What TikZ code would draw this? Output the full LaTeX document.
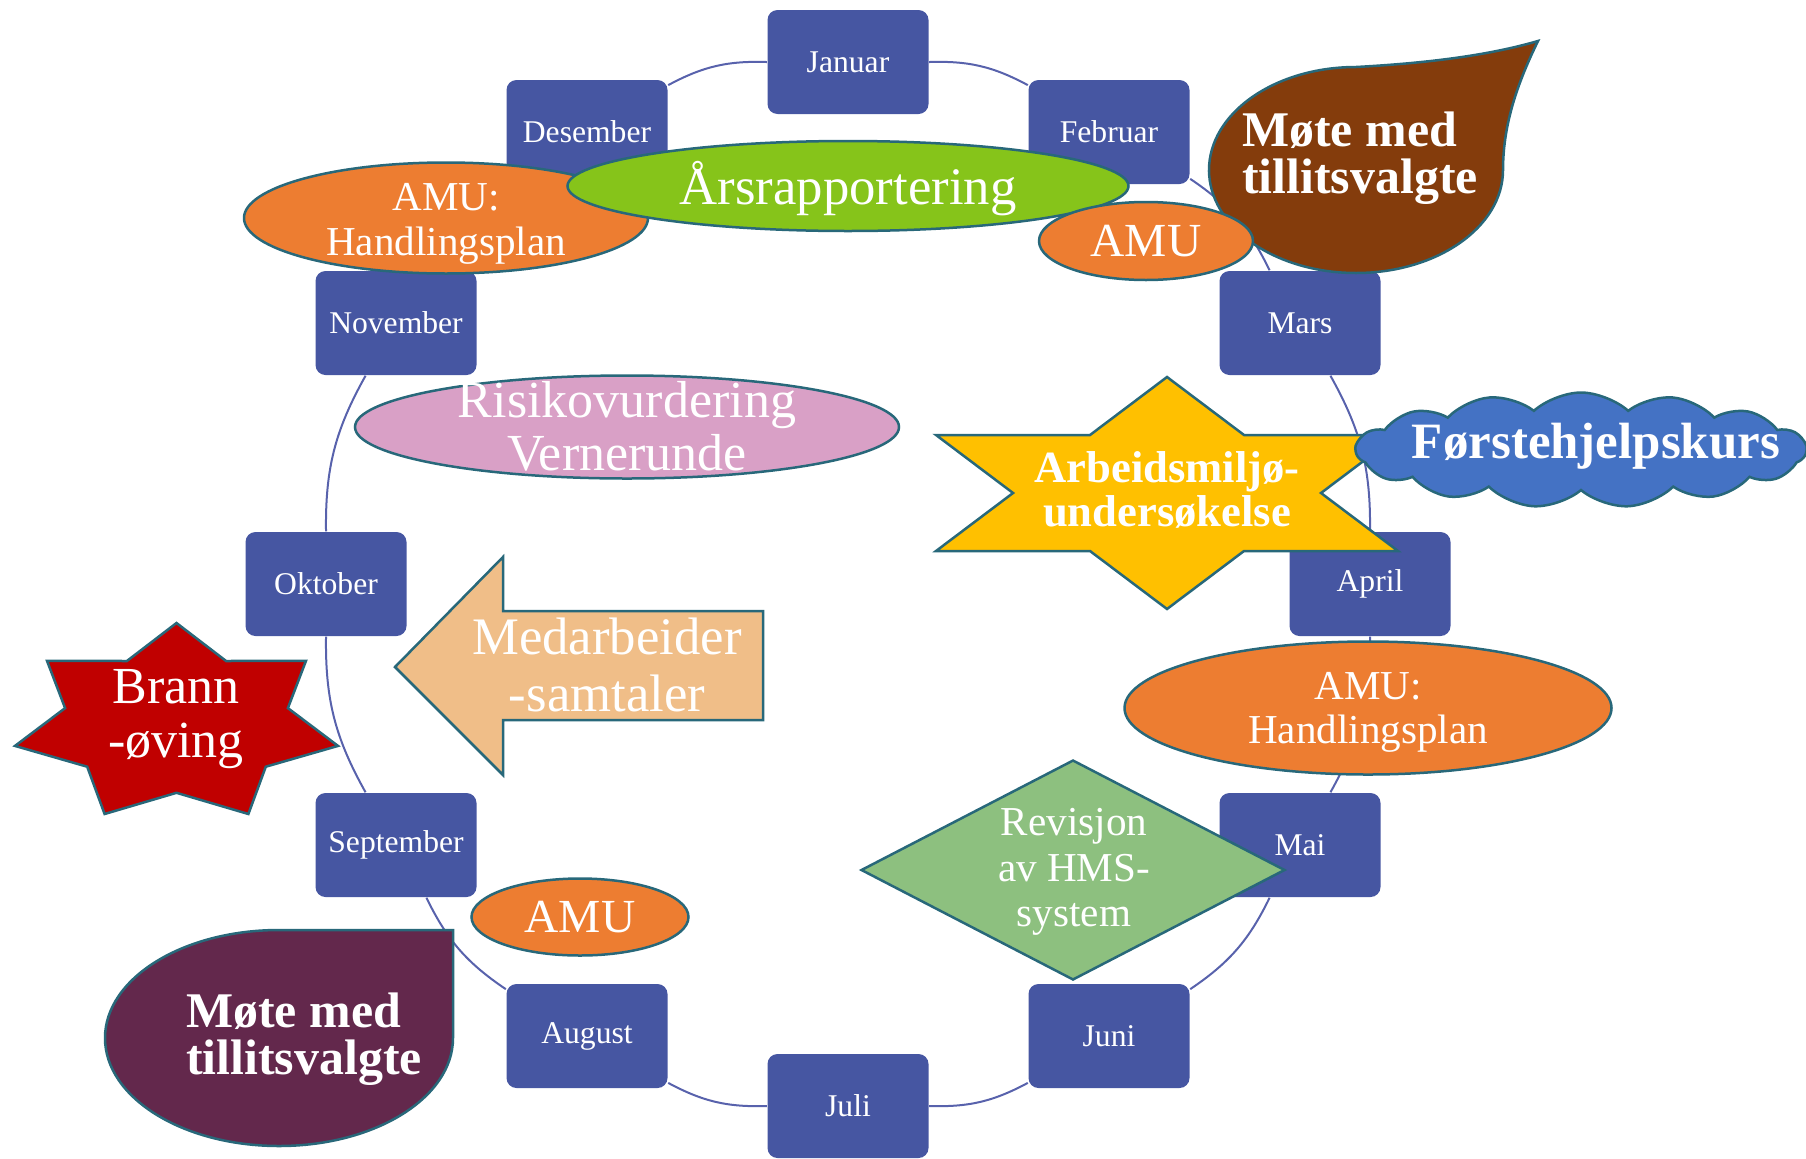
\documentclass[tikz,border=0pt]{standalone}
\usepackage{fontspec}
\setmainfont{Liberation Serif}
\usetikzlibrary{shapes.geometric,shapes.symbols}

\definecolor{monthblue}{RGB}{70,86,162}
\definecolor{ringline}{RGB}{88,98,172}
\definecolor{edgeteal}{RGB}{40,104,122}
\definecolor{amuorange}{RGB}{237,125,49}
\definecolor{reportgreen}{RGB}{134,196,26}
\definecolor{leafbrown}{RGB}{132,60,12}
\definecolor{riskpink}{RGB}{217,160,198}
\definecolor{staryellow}{RGB}{255,192,0}
\definecolor{cloudblue}{RGB}{68,114,196}
\definecolor{arrowpeach}{RGB}{240,190,136}
\definecolor{firered}{RGB}{192,0,0}
\definecolor{hmsgreen}{RGB}{141,192,127}
\definecolor{dropplum}{RGB}{99,40,76}

\begin{document}
\begin{tikzpicture}[x=0.1mm, y=0.1mm,
  month/.style={rectangle, rounded corners=1mm, fill=monthblue, text=white, minimum width=16.1mm, minimum height=10.4mm, font=\fontsize{9}{10}\selectfont},
  ring/.style={draw=ringline, line width=0.2mm},
  edged/.style={draw=edgeteal, line width=0.25mm, inner sep=0pt},
  wtext/.style={text=white, align=center, inner sep=0pt}]
\useasboundingbox (0,0) rectangle (1806,1158);

% months on the ring
\node[month] (jan) at (848,1096) {Januar};
\node[month] (feb) at (1109,1026) {Februar};
\node[month] (mar) at (1300,835) {Mars};
\node[month] (apr) at (1370,574) {April};
\node[month] (mai) at (1300,313) {Mai};
\node[month] (jun) at (1109,122) {Juni};
\node[month] (jul) at (848,52) {Juli};
\node[month] (aug) at (587,122) {August};
\node[month] (sep) at (396,313) {September};
\node[month] (okt) at (326,574) {Oktober};
\node[month] (nov) at (396,835) {November};
\node[month] (des) at (587,1026) {Desember};

\draw[ring] (jan) to[bend left=15] (feb);
\draw[ring] (feb) to[bend left=15] (mar);
\draw[ring] (mar) to[bend left=15] (apr);
\draw[ring] (apr) to[bend left=15] (mai);
\draw[ring] (mai) to[bend left=15] (jun);
\draw[ring] (jun) to[bend left=15] (jul);
\draw[ring] (jul) to[bend left=15] (aug);
\draw[ring] (aug) to[bend left=15] (sep);
\draw[ring] (sep) to[bend left=15] (okt);
\draw[ring] (okt) to[bend left=15] (nov);
\draw[ring] (nov) to[bend left=15] (des);
\draw[ring] (des) to[bend left=15] (jan);

% top
\node[edged, ellipse, fill=amuorange, minimum width=40.4mm, minimum height=11.1mm] (amutl) at (446,940) {};
\node[wtext, font=\fontsize{11.7}{13}\selectfont] (amutltext) at (446,934) {AMU:\\Handlingsplan};
\node[edged, ellipse, fill=reportgreen, minimum width=56.1mm, minimum height=9mm] (aars) at (848,972) {};
\node[wtext, font=\fontsize{15}{16}\selectfont] (aarstext) at (848,969) {Årsrapportering};

\draw[edged, fill=leafbrown] (1209,988) arc[start angle=180, end angle=90, x radius=14.7mm, y radius=10.3mm]
  .. controls (1430,1095) and (1490,1103) .. (1538,1117)
  .. controls (1515,1070) and (1503,1030) .. (1503,988)
  arc[start angle=0, end angle=-180, x radius=14.7mm, y radius=10.3mm] -- cycle;
\node[wtext, align=left, font=\bfseries\fontsize{14.2}{13.4}\selectfont] (leaftext) at (1360,1000) {Møte med\\tillitsvalgte};
\node[edged, ellipse, fill=amuorange, minimum width=21.4mm, minimum height=7.8mm] (amutr) at (1146,917) {};
\node[wtext, font=\fontsize{13.5}{15}\selectfont] (amutrtext) at (amutr) {AMU};

% middle
\node[edged, ellipse, fill=riskpink, minimum width=54.4mm, minimum height=10.3mm] (risk) at (627,731) {};
\node[wtext, font=\fontsize{14.8}{15}\selectfont] (risktext) at (627,732) {Risikovurdering\\Vernerunde};

\draw[edged, fill=staryellow] (1167,781) -- (1244,723) -- (1398,723) -- (1321,665) -- (1398,607) -- (1244,607)
  -- (1167,549) -- (1090,607) -- (936,607) -- (1013,665) -- (936,723) -- (1090,723) -- cycle;
\node[wtext, font=\bfseries\fontsize{12.7}{12.5}\selectfont] (surveytext) at (1167,668) {Arbeidsmiljø-\\undersøkelse};
\node[edged, cloud, cloud puffs=15, cloud puff arc=85, cloud ignores aspect, fill=cloudblue, minimum width=45mm, minimum height=11.5mm] (course) at (1581,708) {};
\node[wtext, font=\bfseries\fontsize{14.5}{16}\selectfont] (coursetext) at (1596,712) {Førstehjelpskurs};

\draw[edged, fill=arrowpeach] (395,491) -- (503,601) -- (503,547) -- (763,547) -- (763,438) -- (503,438) -- (503,383) -- cycle;
\node[wtext, font=\fontsize{15}{16.2}\selectfont] (talktext) at (607,493) {Medarbeider\\-samtaler};

\draw[edged, fill=firered] (176.5,535) -- (226.1,497) -- (306,497.2) -- (287.9,449.9) -- (338,412.1) -- (265.8,391.3)
  -- (248.4,344) -- (176.5,365.2) -- (104.6,344) -- (87.2,391.3) -- (15,412.1) -- (65.1,449.9)
  -- (47,497.2) -- (126.9,497) -- cycle;
\node[wtext, font=\fontsize{14.8}{15.6}\selectfont] (firetext) at (176,439) {Brann\\-øving};

% bottom
\node[edged, ellipse, fill=amuorange, minimum width=48.7mm, minimum height=13.3mm] (amubr) at (1368,450) {};
\node[wtext, font=\fontsize{11.7}{12.5}\selectfont] (amubrtext) at (1368,446) {AMU:\\Handlingsplan};
\node[edged, diamond, fill=hmsgreen, minimum width=42.4mm, minimum height=22mm] (hms) at (1073,288) {};
\node[wtext, font=\fontsize{11.7}{13}\selectfont] (hmstext) at (1074,286) {Revisjon\\av HMS-\\system};
\node[edged, ellipse, fill=amuorange, minimum width=21.7mm, minimum height=7.7mm] (amubl) at (580,241) {};
\node[wtext, font=\fontsize{13.5}{15}\selectfont] (amubltext) at (amubl) {AMU};

\draw[edged, fill=dropplum] (453,228) -- (279,228) arc[start angle=90, end angle=360, x radius=17.4mm, y radius=10.8mm] -- cycle;
\node[wtext, align=left, font=\bfseries\fontsize{14.2}{13.4}\selectfont] (droptext) at (304,119) {Møte med\\tillitsvalgte};
\end{tikzpicture}
\end{document}
